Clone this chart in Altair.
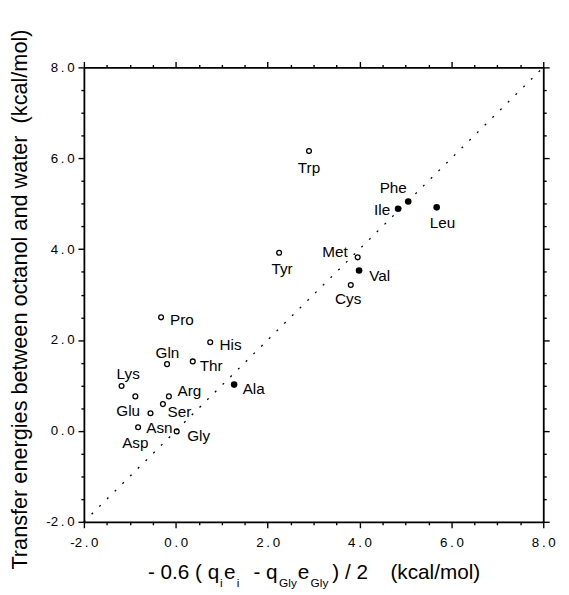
import altair as alt
import pandas as pd

# ---------------- data ----------------
names = ["Trp", "Tyr", "Pro", "His", "Gln", "Thr", "Lys", "Glu", "Arg", "Ser",
         "Asn", "Asp", "Gly", "Ala", "Phe", "Ile", "Leu", "Met", "Val", "Cys"]
x_vals = [2.90, 2.25, -0.32, 0.75, -0.19, 0.37, -1.18, -0.88, -0.15, -0.28,
          -0.55, -0.82, 0.02, 1.27, 5.06, 4.84, 5.68, 3.96, 3.99, 3.81]
y_vals = [6.16, 3.92, 2.50, 1.95, 1.47, 1.53, 0.99, 0.76, 0.76, 0.59,
          0.39, 0.08, -0.01, 1.02, 5.05, 4.89, 4.92, 3.82, 3.53, 3.21]
filled_names = ["Ala", "Phe", "Ile", "Leu", "Val"]
diag_ends = [-2.0, 8.0]
tick_values = [-2.0, -1.5, -1.0, -0.5, 0.0, 0.5, 1.0, 1.5, 2.0, 2.5, 3.0, 3.5,
               4.0, 4.5, 5.0, 5.5, 6.0, 6.5, 7.0, 7.5, 8.0]

# ---------------- label placement (style) ----------------
label_dx = [0, 3, 9, 9.4, 0.4, 7, 6.7, -7.3, 8.7, 4.7,
            9, -2.8, 10.7, 8.7, -15.2, -8, 6, -10, 10.3, -2.7]
label_dy = [16, 16, 1.7, 1.3, -12.5, 3.5, -12.8, 14, -6, 6.8,
            14.5, 14.8, 4.2, 3.5, -14.7, 0.5, 14.8, -6, 5, 13.3]
label_align = ["center", "center", "left", "left", "center", "left", "center", "center", "left", "left",
               "center", "center", "left", "left", "center", "right", "center", "right", "left", "center"]

df = pd.DataFrame({
    "name": names,
    "x": x_vals,
    "y": y_vals,
    "filled": [n in filled_names for n in names],
})
diag_df = pd.DataFrame({"dx": diag_ends, "dy": diag_ends})

FONT = "Liberation Sans"
xscale = alt.Scale(domain=[-2, 8], nice=False, zero=False)
yscale = alt.Scale(domain=[-2, 8], nice=False, zero=False)

major = "abs(datum.value % 2) < 0.001"
lab = "replace(replace(format(datum.value, '.1f'), '\u2212', '-'), '.', '\u2009.\u2009')"
label_expr = f"{major} ? {lab} : ''"

common = dict(
    values=tick_values, domainColor="black", domainWidth=1.8,
    tickColor="black", tickWidth=1.4,
    tickSize={"condition": {"test": major, "value": 6}, "value": 3},
    grid=False, labelFont=FONT, labelFontSize=13.5, labelColor="black",
)

x_bottom = alt.Axis(orient="bottom", title=None, labelExpr=label_expr, labelPadding=8,
                    labelOverlap=False, labelFlush=False, **common)
y_left = alt.Axis(orient="left", labelExpr=label_expr, labelPadding=4,
                  labelOverlap=False, labelFlush=False,
                  title="Transfer energies between octanol and water \u00a0(kcal/mol)",
                  titleFont=FONT, titleFontSize=22, titleFontWeight="normal", titleColor="black",
                  titleAngle=-90, titleAlign="center", titleBaseline="middle",
                  titleX=-65, titleY=235, **common)
x_top = alt.Axis(orient="top", title=None, labels=False, **common)
y_right = alt.Axis(orient="right", title=None, labels=False, **common)

diag = alt.Chart(diag_df).mark_line(
    color="black", strokeWidth=1.3, strokeDash=[2, 9]
).encode(
    x=alt.X("dx:Q", scale=xscale, axis=x_top),
    y=alt.Y("dy:Q", scale=yscale, axis=y_right),
)

open_pts = alt.Chart(df).transform_filter("!datum.filled").mark_point(
    shape="circle", filled=False, size=24, strokeWidth=1.3, color="black", opacity=1
).encode(
    x=alt.X("x:Q", scale=xscale, axis=x_bottom),
    y=alt.Y("y:Q", scale=yscale, axis=y_left),
)

filled_pts = alt.Chart(df).transform_filter("datum.filled").mark_circle(
    size=45, color="black", opacity=1
).encode(
    x=alt.X("x:Q", scale=xscale, axis=None),
    y=alt.Y("y:Q", scale=yscale, axis=None),
)

labels = []
for n, ddx, ddy, al in zip(names, label_dx, label_dy, label_align):
    labels.append(
        alt.Chart(df).transform_filter(f"datum.name == '{n}'").mark_text(
            align=al, baseline="middle", dx=ddx, dy=ddy + 1,
            font=FONT, fontSize=15.5, color="black"
        ).encode(
            x=alt.X("x:Q", scale=xscale, axis=None),
            y=alt.Y("y:Q", scale=yscale, axis=None),
            text="name:N",
        )
    )

# x-axis title with subscripts, built from pieces (text, left x, baseline y, size) in plot coords
title_pieces = [
    ("- 0.6 ( q", 65, 519.5, 21),
    ("i", 138, 527.5, 12),
    ("e", 142, 519.5, 21),
    ("i", 155, 527.5, 12),
    ("- q", 172, 519.5, 21),
    ("Gly", 198, 527.5, 12),
    ("e", 217, 519.5, 21),
    ("Gly", 230, 527.5, 12),
    (") / 2", 252, 519.5, 21),
    ("(kcal/mol)", 311, 519.5, 21),
]
title_df = pd.DataFrame({"k": [0]})
title_marks = []
for txt, px, py, fs in title_pieces:
    title_marks.append(
        alt.Chart(title_df).mark_text(
            text=txt, align="left", baseline="alphabetic",
            font=FONT, fontSize=fs, color="black"
        ).encode(x=alt.value(px), y=alt.value(py))
    )

chart = alt.layer(diag, open_pts, filled_pts, *labels, *title_marks).resolve_axis(
    x="independent", y="independent"
).properties(
    width=466, height=461,
    autosize=alt.AutoSizeParams(type="none"),
    padding={"left": 77, "top": 56, "right": 18, "bottom": 70},
).configure_view(stroke=None).configure(background="white")

chart.save("out.html", embed_options={"renderer": "svg", "actions": False})
